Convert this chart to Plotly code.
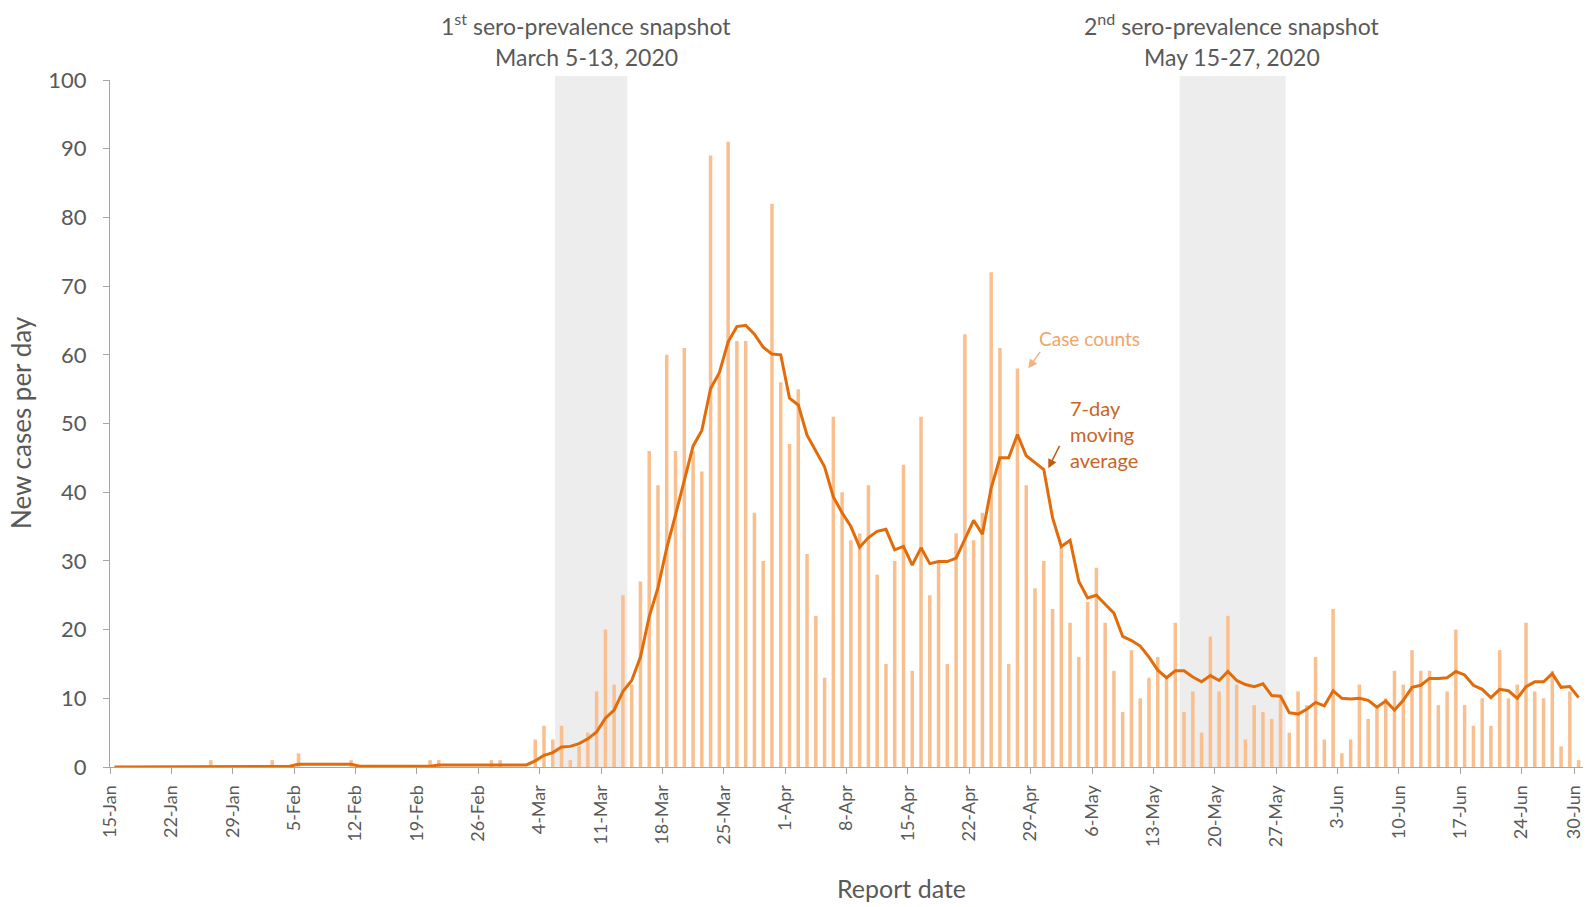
import pandas as pd
import plotly.graph_objects as go

# ---------------- data ----------------
start_date = "2020-01-15"

# daily new cases, 15-Jan ... 30-Jun 2020
jan_cases = [0, 0, 0, 0, 0, 0, 0, 0, 0, 0, 0, 1, 0, 0, 0, 0, 0]            # 15-31 Jan
feb_cases = [0, 1, 0, 0, 2, 0, 0, 0, 0, 0, 1, 0, 0, 0, 0, 0, 0, 0, 0, 1,
             1, 0, 0, 0, 0, 0, 1, 1, 0]                                      # 1-29 Feb
mar_cases = [0, 0, 4, 6, 4, 6, 1, 3, 5, 11, 20, 12, 25, 12, 27, 46, 41, 60,
             46, 61, 46, 43, 89, 57, 91, 62, 62, 37, 30, 82, 56]             # 1-31 Mar
apr_cases = [47, 55, 31, 22, 13, 51, 40, 33, 34, 41, 28, 15, 30, 44, 14, 51,
             25, 30, 15, 34, 63, 33, 37, 72, 61, 15, 58, 41, 26, 30]         # 1-30 Apr
may_cases = [23, 32, 21, 16, 24, 29, 21, 14, 8, 17, 10, 13, 16, 13, 21, 8,
             11, 5, 19, 11, 22, 12, 4, 9, 8, 7, 10, 5, 11, 9, 16]            # 1-31 May
jun_cases = [4, 23, 2, 4, 12, 7, 9, 10, 14, 12, 17, 14, 14, 9, 11, 20, 9, 6,
             10, 6, 17, 10, 12, 21, 11, 10, 14, 3, 11, 1]                    # 1-30 Jun

# 7-day moving average
jan_avg = [0, 0, 0, 0, 0, 0, 0, 0, 0, 0, 0, 0.1, 0.1, 0.1, 0.1, 0.1, 0.1]
feb_avg = [0.1, 0.1, 0.1, 0.1, 0.4, 0.4, 0.4, 0.4, 0.3, 0.3, 0.4, 0.1, 0.1,
           0.1, 0.1, 0.1, 0.1, 0, 0, 0.1, 0.3, 0.3, 0.3, 0.3, 0.3, 0.3, 0.3,
           0.3, 0.3]
mar_avg = [0.3, 0.3, 0.9, 1.7, 2.1, 2.9, 3.0, 3.4, 4.1, 5.1, 7.1, 8.3, 11.0,
           12.6, 16.0, 21.9, 26.1, 31.9, 36.7, 41.9, 46.7, 49.0, 55.1, 57.4,
           61.9, 64.1, 64.3, 63.0, 61.1, 60.1, 60.0]
apr_avg = [53.7, 52.7, 48.3, 46.1, 43.7, 39.3, 37.0, 35.0, 32.0, 33.4, 34.3,
           34.6, 31.6, 32.1, 29.4, 31.9, 29.6, 29.9, 29.9, 30.4, 33.1, 35.9,
           33.9, 40.6, 45.0, 45.0, 48.4, 45.3, 44.3, 43.3]
may_avg = [36.3, 32.1, 33.0, 27.0, 24.6, 25.0, 23.7, 22.4, 19.0, 18.4, 17.6,
           16.0, 14.1, 13.0, 14.0, 14.0, 13.1, 12.4, 13.3, 12.6, 13.9, 12.6,
           12.0, 11.7, 12.1, 10.4, 10.3, 7.9, 7.7, 8.4, 9.4]
jun_avg = [8.9, 11.1, 10.0, 9.9, 10.0, 9.7, 8.7, 9.6, 8.3, 9.7, 11.6, 11.9,
           12.9, 12.9, 13.0, 13.9, 13.4, 11.9, 11.3, 10.1, 11.3, 11.1, 10.0,
           11.7, 12.4, 12.4, 13.6, 11.6, 11.7, 10.1]

tick_dates = ["2020-01-15", "2020-01-22", "2020-01-29", "2020-02-05",
              "2020-02-12", "2020-02-19", "2020-02-26", "2020-03-04",
              "2020-03-11", "2020-03-18", "2020-03-25", "2020-04-01",
              "2020-04-08", "2020-04-15", "2020-04-22", "2020-04-29",
              "2020-05-06", "2020-05-13", "2020-05-20", "2020-05-27",
              "2020-06-03", "2020-06-10", "2020-06-17", "2020-06-24",
              "2020-06-30"]
tick_labels = ["15-Jan", "22-Jan", "29-Jan", "5-Feb", "12-Feb", "19-Feb",
               "26-Feb", "4-Mar", "11-Mar", "18-Mar", "25-Mar", "1-Apr",
               "8-Apr", "15-Apr", "22-Apr", "29-Apr", "6-May", "13-May",
               "20-May", "27-May", "3-Jun", "10-Jun", "17-Jun", "24-Jun",
               "30-Jun"]

snapshot1 = ("2020-03-05 18:00", "2020-03-14 00:00")
snapshot2 = ("2020-05-16 00:00", "2020-05-28 02:00")

# ---------------- build ----------------
cases = jan_cases + feb_cases + mar_cases + apr_cases + may_cases + jun_cases
avg = jan_avg + feb_avg + mar_avg + apr_avg + may_avg + jun_avg
days = pd.date_range(start_date, periods=len(cases), freq="D") + pd.Timedelta(hours=12)

GRAY = "#595959"
AXIS = "#A6A6A6"
BAR = "#F9BF8F"
LINE = "#E36C0A"
FONT = "Lato"

fig = go.Figure()
fig.add_trace(go.Bar(x=days, y=cases, marker=dict(color=BAR, line=dict(width=0)),
                     name="Case counts"))
fig.add_trace(go.Scatter(x=days, y=avg, mode="lines",
                         line=dict(color=LINE, width=3), name="7-day moving average"))

for x0, x1 in (snapshot1, snapshot2):
    fig.add_shape(type="rect", xref="x", yref="paper", x0=x0, x1=x1, y0=0, y1=1.006,
                  fillcolor="#EDEDED", line=dict(width=0), layer="below")

fig.update_layout(
    width=1593, height=907,
    margin=dict(l=110, r=10, t=80, b=140),
    plot_bgcolor="white", paper_bgcolor="white",
    showlegend=False, bargap=0.6,
    font=dict(family=FONT, color=GRAY),
)
fig.update_xaxes(
    type="date", range=["2020-01-15", "2020-07-01"],
    tickmode="array", tickvals=tick_dates, ticktext=tick_labels,
    tickangle=-90, ticks="outside", ticklen=6, tickcolor=AXIS,
    showline=True, linecolor=AXIS, linewidth=1, showgrid=False, zeroline=False,
    tickfont=dict(family=FONT, size=18, color=GRAY), ticklabelstandoff=4,
)
fig.update_yaxes(
    range=[0, 100], dtick=10, ticks="outside", ticklen=6, tickcolor=AXIS,
    showline=True, linecolor=AXIS, linewidth=1, showgrid=False, zeroline=False,
    tickfont=dict(family=FONT, size=22, color=GRAY), ticklabelstandoff=12,
)

ann = []
ann.append(dict(text="New cases per day", x=-0.0605, y=0.502, xref="paper", yref="paper",
                textangle=-90, showarrow=False, font=dict(size=26, color=GRAY),
                xanchor="center", yanchor="middle"))
ann.append(dict(text="Report date", x=0.537, y=-0.1765, xref="paper", yref="paper",
                showarrow=False, font=dict(size=25, color=GRAY),
                xanchor="center", yanchor="middle"))
ann.append(dict(text="1<sup>st</sup> sero-prevalence snapshot", x=0.3232, y=1.0808,
                xref="paper", yref="paper", showarrow=False,
                font=dict(size=23, color=GRAY), xanchor="center", yanchor="middle"))
ann.append(dict(text="March 5-13, 2020", x=0.3232, y=1.0335, xref="paper", yref="paper",
                showarrow=False, font=dict(size=23, color=GRAY),
                xanchor="center", yanchor="middle"))
ann.append(dict(text="2<sup>nd</sup> sero-prevalence snapshot", x=0.7617, y=1.0808,
                xref="paper", yref="paper", showarrow=False,
                font=dict(size=23, color=GRAY), xanchor="center", yanchor="middle"))
ann.append(dict(text="May 15-27, 2020", x=0.7617, y=1.0335, xref="paper", yref="paper",
                showarrow=False, font=dict(size=23, color=GRAY),
                xanchor="center", yanchor="middle"))
ann.append(dict(text="Case counts", x=0.6653, y=0.623, xref="paper", yref="paper",
                showarrow=False, font=dict(size=19, color="#F2A467"),
                xanchor="center", yanchor="middle"))
ann.append(dict(text="", x=0.6234, y=0.5803, xref="paper", yref="paper",
                showarrow=True, ax=13, ay=-18, arrowhead=2, arrowsize=1.2,
                arrowwidth=1.5, arrowcolor="#F4B183"))
ann.append(dict(text="7-day<br>moving<br>average", x=0.6504, y=0.4847, xref="paper",
                yref="paper", showarrow=False, align="left",
                font=dict(size=20, color="#C9651F"), xanchor="left", yanchor="middle"))
ann.append(dict(text="", x=0.637, y=0.4348, xref="paper", yref="paper",
                showarrow=True, ax=12, ay=-24, arrowhead=2, arrowsize=1.2,
                arrowwidth=1.5, arrowcolor="#C55A11"))
fig.update_layout(annotations=ann)

fig.write_html("out.html", config={"displayModeBar": False},
               post_script="document.body.style.margin='0';")
